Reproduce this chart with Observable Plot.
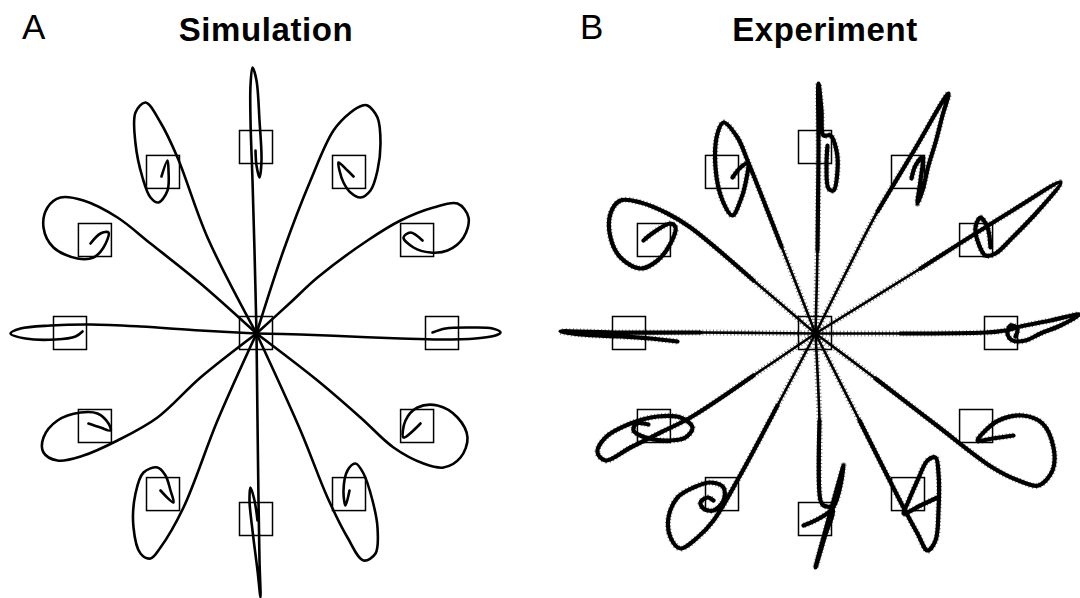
<!DOCTYPE html>
<html>
<head>
<meta charset="utf-8">
<script src="https://cdn.jsdelivr.net/npm/d3@7"></script>
<script src="https://cdn.jsdelivr.net/npm/@observablehq/plot@0.6"></script>
<style>
  body { margin: 0; background: #fff; }
  #fig { position: relative; width: 1080px; height: 598px; overflow: hidden; font-family: "Liberation Sans", Arial, sans-serif; color: #000; }
  .panel { position: absolute; top: 0; }
  .letter { position: absolute; font-size: 35px; line-height: 35px; }
  .title { position: absolute; font-size: 33px; line-height: 33px; font-weight: bold; letter-spacing: 0.6px; transform: translateX(-50%); white-space: nowrap; }
</style>
</head>
<body>
<div id="fig">
  <div class="letter" style="left:22px;top:9px">A</div>
  <div class="title" style="left:266px;top:13px">Simulation</div>
  <div class="letter" style="left:580px;top:9px">B</div>
  <div class="title" style="left:825px;top:13px">Experiment</div>
</div>
<script>
// Twelve targets around the start point, one every 30 degrees.
const targetAngles = [0, 30, 60, 90, 120, 150, 180, 210, 240, 270, 300, 330];
const targetDistance = 186;   // start-to-target distance (workspace units)
const targetSize = 33;        // side of the square target window

// Hand paths [x, y] relative to the start point, one per target (same order as targetAngles).
const simulationPaths = [
  [[0,0],[44,-1],[94,-3],[144,-5],[184,-6],[219,-5],[239,-2],[244,1],[236,5],[214,6],[189,5],[176,1]],
  [[0,0],[34,31],[61,56],[111,93],[144,113],[177,126],[201,130],[212,116],[207,96],[191,83],[174,81],[157,86],[147,96],[154,101],[166,93]],
  [[0,0],[27,83],[54,153],[77,203],[94,221],[106,228],[111,228],[121,216],[124,190],[121,163],[114,143],[104,136],[94,141],[87,151],[83,163],[82,171],[91,163],[97,157]],
  [[0,0],[-2,83],[-4,153],[-6,213],[-6,248],[-4,266],[0,253],[3,213],[5,173],[3,156],[0,168],[-1,183]],
  [[0,0],[-49,96],[-79,176],[-96,211],[-111,231],[-121,221],[-121,190],[-114,156],[-106,136],[-98,131],[-89,143],[-88,163],[-89,173],[-95,157]],
  [[0,0],[-56,50],[-106,90],[-139,116],[-173,133],[-196,136],[-209,126],[-213,106],[-203,86],[-179,75],[-163,76],[-153,86],[-148,101],[-156,100],[-166,90]],
  [[0,0],[-56,3],[-116,7],[-166,9],[-206,8],[-236,5],[-246,0],[-231,-5],[-201,-6],[-181,-3],[-174,2]],
  [[0,0],[-56,-44],[-99,-84],[-139,-107],[-173,-122],[-199,-127],[-213,-119],[-213,-104],[-199,-87],[-176,-79],[-159,-80],[-148,-90],[-146,-97],[-156,-94],[-168,-90]],
  [[0,0],[-39,-87],[-73,-174],[-96,-214],[-106,-225],[-116,-220],[-123,-194],[-121,-160],[-113,-139],[-99,-134],[-91,-142],[-86,-157],[-83,-169],[-96,-157]],
  [[0,0],[1,-87],[2,-167],[3,-227],[4,-264],[1,-237],[-4,-197],[-7,-167],[-6,-154],[-2,-167],[1,-187]],
  [[0,0],[44,-97],[71,-164],[91,-204],[107,-227],[119,-220],[121,-194],[116,-167],[107,-140],[99,-130],[91,-137],[87,-157],[89,-172],[93,-157]],
  [[0,0],[61,-47],[104,-84],[137,-114],[167,-130],[187,-134],[204,-124],[211,-104],[201,-84],[181,-72],[161,-74],[149,-87],[147,-104],[164,-90]]
];

const experimentPaths = [
  [[0,0],[85,0],[170,1],[190,3],[205,7],[235,13],[264,19],[245,8],[225,0],[210,-7],[197,-7],[192,0],[195,8],[202,5],[200,-3]],
  [[0,0],[105,65],[197,123],[245,151],[223,123],[197,96],[180,80],[170,78],[163,90],[160,106],[165,116],[172,106],[175,86]],
  [[0,0],[30,60],[62,122],[98,182],[133,240],[127,218],[120,191],[113,168],[107,143],[102,130],[105,153],[107,176],[100,168],[96,155]],
  [[0,0],[2,83],[3,183],[3,250],[6,223],[8,198],[15,198],[21,183],[22,163],[18,143],[13,145],[11,168],[12,188]],
  [[0,0],[-34,87],[-68,173],[-78,196],[-92,211],[-98,200],[-100,166],[-93,133],[-83,118],[-75,133],[-70,150],[-68,170],[-75,166],[-83,156]],
  [[0,0],[-62,53],[-125,106],[-148,120],[-175,131],[-195,133],[-205,120],[-205,96],[-195,76],[-175,65],[-158,73],[-145,90],[-140,106],[-145,110],[-162,101],[-172,93]],
  [[0,0],[-115,1],[-195,1],[-255,2],[-235,-1],[-195,-3],[-165,-5],[-138,-8]],
  [[0,0],[-62,-42],[-125,-84],[-155,-99],[-185,-114],[-210,-127],[-218,-119],[-210,-104],[-185,-90],[-158,-83],[-135,-84],[-123,-94],[-130,-104],[-148,-107],[-170,-104],[-182,-97],[-179,-90],[-167,-91]],
  [[0,0],[-38,-72],[-76,-143],[-102,-187],[-118,-204],[-135,-215],[-145,-204],[-147,-184],[-138,-164],[-122,-154],[-105,-149],[-92,-154],[-92,-167],[-102,-177],[-112,-175],[-115,-169],[-108,-164],[-102,-167]],
  [[0,0],[4,-87],[5,-167],[8,-172],[17,-175],[9,-204],[0,-234],[14,-182],[28,-132],[17,-175],[-12,-192]],
  [[0,0],[44,-87],[88,-174],[102,-200],[112,-217],[120,-207],[123,-177],[123,-140],[120,-124],[112,-127],[102,-147],[92,-170],[88,-180],[105,-172],[122,-164]],
  [[0,0],[60,-45],[120,-91],[177,-134],[203,-147],[223,-152],[237,-137],[238,-114],[227,-90],[207,-82],[183,-87],[167,-100],[162,-107],[177,-105],[198,-102]]
];

// Start window plus the twelve target windows.
const windows = [{x: 0, y: 0}].concat(targetAngles.map(a => ({
  x: targetDistance * Math.cos(a * Math.PI / 180),
  y: targetDistance * Math.sin(a * Math.PI / 180)
})));

function rows(paths) {
  return paths.flatMap((pts, k) => pts.map(([x, y], i) => ({target: targetAngles[k], i, x, y})));
}

// Part of each path from where it first gets near the target (slow, densely sampled movement).
function slowRows(paths, radius) {
  return paths.flatMap((pts, k) => {
    const start = pts.findIndex(([x, y]) => Math.hypot(x, y) >= radius);
    return pts.slice(Math.max(0, start - 1)).map(([x, y], i) => ({target: targetAngles[k], i, x, y}));
  });
}

const lineOpts = {x: "x", y: "y", z: "target", curve: "catmull-rom", stroke: "#000", strokeLinejoin: "round", strokeLinecap: "round"};

function panel({marks, xDomain, left}) {
  const h = targetSize / 2;
  const chart = Plot.plot({
    width: 540,
    height: 598,
    margin: 0,
    x: {domain: xDomain, axis: null},
    y: {domain: [-265, 333], axis: null},
    style: {background: "transparent"},
    marks: [
      Plot.rect(windows, {
        x1: d => d.x - h, x2: d => d.x + h, y1: d => d.y - h, y2: d => d.y + h,
        fill: "none", stroke: "#000", strokeWidth: 1.5
      }),
      ...marks
    ]
  });
  chart.classList.add("panel");
  chart.style.left = left + "px";
  return chart;
}

const fig = document.getElementById("fig");

fig.appendChild(panel({
  xDomain: [-256, 284], left: 0,
  marks: [Plot.line(rows(simulationPaths), {...lineOpts, strokeWidth: 2.6})]
}));

// Recorded hand paths: sampled trace with a stippled edge, heavier where the hand slows near the target.
fig.appendChild(panel({
  xDomain: [-275, 265], left: 540,
  marks: [
    Plot.line(rows(experimentPaths), {...lineOpts, strokeWidth: 6, strokeDasharray: "1 2.5", strokeLinecap: "butt", strokeOpacity: 0.5}),
    Plot.line(rows(experimentPaths), {...lineOpts, strokeWidth: 2.6}),
    Plot.line(slowRows(experimentPaths, 150), {...lineOpts, strokeWidth: 4.2})
  ]
}));
</script>
</body>
</html>
